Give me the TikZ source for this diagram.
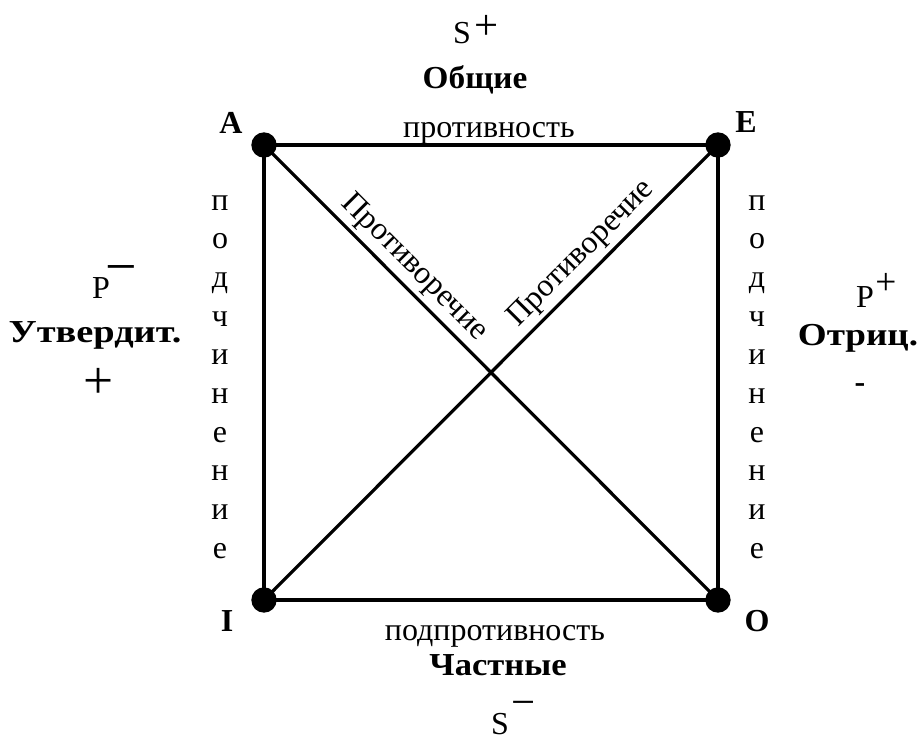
\documentclass[tikz,border=0pt]{standalone}
\usepackage{graphicx}
\usepackage{fontspec}
\setmainfont{Liberation Serif}
\begin{document}
\begin{tikzpicture}[x=0.75pt,y=-0.75pt]
\useasboundingbox (0,0) rectangle (924,735);
\tikzset{
 vertex/.style={circle,fill=black,draw=none,inner sep=0pt,minimum size=19pt},
 edge/.style={line width=2.4pt},
 lbl/.style={inner sep=0pt,anchor=base,font=\fontsize{24}{28}\selectfont},
 blbl/.style={inner sep=0pt,anchor=base,font=\bfseries\fontsize{24}{28}\selectfont},
 sign/.style={inner sep=0pt,anchor=center,font=\fontsize{#1}{#1}\selectfont},
 diag/.style={sloped,above,inner sep=3pt,font=\fontsize{24}{28}\selectfont}
}
% vertices
\node[vertex] (A) at (264,145) {};
\node[vertex] (E) at (718,145) {};
\node[vertex] (I) at (264,600) {};
\node[vertex] (O) at (718,600) {};
% edges
\draw[edge] (A.center) -- (E.center) -- (O.center) -- (I.center) -- cycle;
\draw[edge] (A.center) -- node[diag,pos=0.30] (d1) {Противоречие} (O.center);
\draw[edge] (I.center) -- node[diag,pos=0.73] (d2) {Противоречие} (E.center);
% corner letters
\node[blbl,anchor=center] (lA) at (231,123) {A};
\node[blbl,anchor=center] (lE) at (746,122) {E};
\node[blbl,anchor=center] (lI) at (227,621) {I};
\node[blbl,anchor=center] (lO) at (757,621) {O};
% top
\node[lbl] (S1) at (462,44) {S};
\node[sign=32] (S1p) at (487,27) {+};
\node[blbl] (gen) at (475,89) {\scalebox{1.04}[1]{Общие}};
\node[lbl] (contr) at (489,137) {противность};
% bottom
\node[lbl] (sub) at (495,640) {подпротивность};
\node[blbl] (part) at (498,675) {\scalebox{1.08}[1]{Частные}};
\node[lbl] (S2) at (500,734) {S};
\node[sign=32] (S2m) at (524,709) {−};
% left
\node[lbl] (P1) at (101,298) {P};
\node[sign=42] (P1m) at (121,276) {−};
\node[blbl] (aff) at (95,342) {\scalebox{1.2}[1]{Утвердит.}};
\node[sign=40] (affs) at (99,383) {+};
% right
\node[lbl] (P2) at (865,307) {P};
\node[sign=28] (P2p) at (886,284) {+};
\node[blbl] (neg) at (858,345) {\scalebox{1.16}[1]{Отриц.}};
\node[blbl,anchor=center] (negs) at (860,388) {-};
% vertical words
\foreach \ch [count=\i from 0] in {п,о,д,ч,и,н,е,н,и,е} {
  \node[lbl] (L\i) at (220,210+38.67*\i) {\ch};
  \node[lbl] (R\i) at (757,210+38.67*\i) {\ch};
}
\end{tikzpicture}
\end{document}
